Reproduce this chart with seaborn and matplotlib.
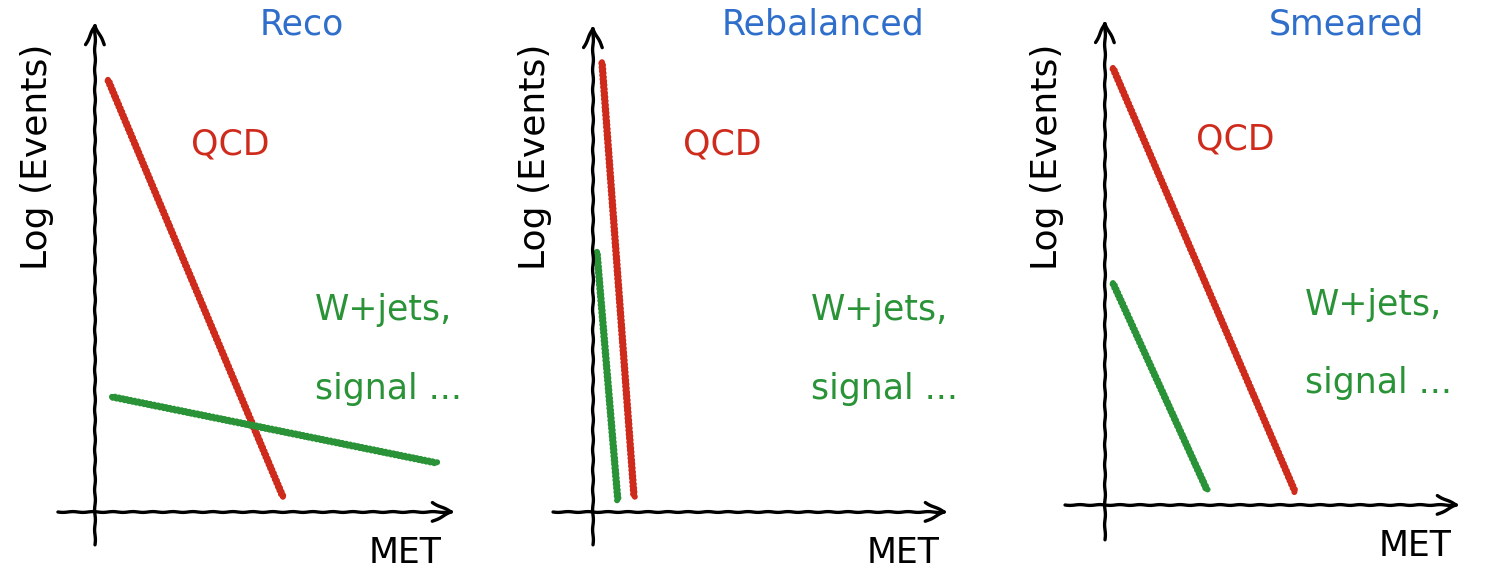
import numpy as np
import pandas as pd
import matplotlib
matplotlib.use("Agg")
import matplotlib.pyplot as plt
import seaborn as sns

# --- data (MET vs log(events), arbitrary units) ---
panels = ["Reco", "Rebalanced", "Smeared"]

qcd_met = {"Reco": [0.36, 5.22], "Rebalanced": [0.25, 1.14], "Smeared": [0.22, 5.28]}
qcd_log = {"Reco": [8.82, 0.31], "Rebalanced": [9.18, 0.31], "Smeared": [8.92, 0.27]}
wjets_met = {"Reco": [0.47, 9.50], "Rebalanced": [0.11, 0.69], "Smeared": [0.22, 2.83]}
wjets_log = {"Reco": [2.35, 1.00], "Rebalanced": [5.31, 0.24], "Smeared": [4.53, 0.31]}

RED = "#cf2b1c"
GREEN = "#2a9338"
BLUE = "#2f6fcb"

sns.set_style("white")
plt.xkcd(scale=0.8, length=4, randomness=1)
plt.rcParams["font.family"] = ["DejaVu Sans"]
plt.rcParams["path.effects"] = []

W, H = 1489, 571
fig = plt.figure(figsize=(W / 100, H / 100), dpi=100)

# pixel origin of each sketch and pixel size of one unit
origins = {"Reco": (95, 512), "Rebalanced": (593, 512), "Smeared": (1105, 505)}
sx, sy = 36.0, 49.0
xlim = (-1.3, 10.4)
ylim = (-1.3, 10.3)
# axis arrow extents (data units)
xaxis_ext = {"Reco": (-1.03, 10.0), "Rebalanced": (-1.11, 9.86), "Smeared": (-1.11, 9.86)}
yaxis_ext = {"Reco": (-0.67, 10.0), "Rebalanced": (-0.67, 9.94), "Smeared": (-0.71, 9.9)}

# text anchors per panel (data units)
title_xy = {"Reco": (5.75, 9.94), "Rebalanced": (6.4, 9.94), "Smeared": (6.7, 9.8)}
qcd_xy = {"Reco": (3.75, 7.49), "Rebalanced": (3.6, 7.49), "Smeared": (3.61, 7.45)}
wj_xy = {"Reco": (6.11, 4.12), "Rebalanced": (6.05, 4.12), "Smeared": (5.56, 4.08)}
ylab_xy = {"Reco": (-1.6, 7.24), "Rebalanced": (-1.62, 7.24), "Smeared": (-1.6, 7.1)}

for name in panels:
    ox, oy = origins[name]
    left = (ox + xlim[0] * sx) / W
    width = (xlim[1] - xlim[0]) * sx / W
    bottom = (H - oy + ylim[0] * sy) / H
    height = (ylim[1] - ylim[0]) * sy / H
    ax = fig.add_axes([left, bottom, width, height])
    ax.set_xlim(*xlim)
    ax.set_ylim(*ylim)
    ax.axis("off")

    df = pd.DataFrame({
        "MET": qcd_met[name] + wjets_met[name],
        "logN": qcd_log[name] + wjets_log[name],
        "sample": ["QCD"] * 2 + ["W+jets"] * 2,
    })
    sns.lineplot(data=df, x="MET", y="logN", hue="sample",
                 palette={"QCD": RED, "W+jets": GREEN},
                 linewidth=4.3, legend=False, ax=ax, sort=False)

    # hand-drawn axes with arrows
    arrow = dict(arrowstyle="->", lw=2.4, color="black",
                 mutation_scale=34, shrinkA=0, shrinkB=0)
    x0, x1 = xaxis_ext[name]
    y0, y1 = yaxis_ext[name]
    a1 = ax.annotate("", xy=(x1, 0), xytext=(x0, 0), arrowprops=arrow)
    a2 = ax.annotate("", xy=(0, y1), xytext=(0, y0), arrowprops=arrow)
    for a in (a1, a2):
        a.arrow_patch.set_sketch_params(0.4, 20, 1)

    fs = 25
    ax.text(*title_xy[name], name, color=BLUE, fontsize=fs, ha="center", va="center")
    ax.text(*qcd_xy[name], "QCD", color=RED, fontsize=fs, ha="center", va="center")
    tx, ty = wj_xy[name]
    ax.text(tx, ty, "W+jets,", color=GREEN, fontsize=fs, ha="left", va="center")
    ax.text(tx, ty - 1.6, "signal ...", color=GREEN, fontsize=fs, ha="left", va="center")
    ax.text(8.6, -0.84, "MET", color="black", fontsize=fs, ha="center", va="center")
    ax.text(*ylab_xy[name], "Log (Events)", color="black", fontsize=26,
            ha="center", va="center", rotation=90)

fig.savefig("out.png", dpi=100)
